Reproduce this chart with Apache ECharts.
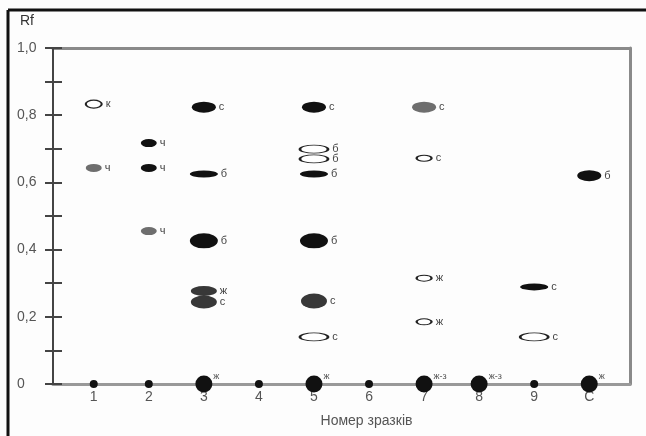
<!DOCTYPE html>
<html>
<head>
<meta charset="utf-8">
<script src="https://cdn.jsdelivr.net/npm/echarts@6/dist/echarts.min.js"></script>
<style>
  html, body { margin: 0; padding: 0; background: #fdfdfd; }
  #chart { width: 646px; height: 436px; }
</style>
</head>
<body>
<div id="chart"></div>
<script>
// доріжки (номер зразка)
const laneNames = ["1", "2", "3", "4", "5", "6", "7", "8", "9", "C"];

// плями на хроматограмі
const spotLane = [1, 1, 2, 2, 2, 3, 3, 3, 3, 3, 5, 5, 5, 5, 5, 5, 5, 7, 7, 7, 7, 9, 9, 10];
const spotRf = [0.833, 0.643, 0.717, 0.643, 0.455, 0.824, 0.625, 0.426, 0.277, 0.244,
  0.824, 0.699, 0.670, 0.625, 0.426, 0.247, 0.140, 0.824, 0.672, 0.315, 0.185, 0.289, 0.140, 0.620];
const spotTone = ["open", "gray", "black", "black", "gray", "black", "black", "black", "dark", "dark",
  "black", "open", "open", "black", "black", "dark", "open", "gray", "open", "open", "open", "black", "open", "black"];
const spotKind = ["small", "small", "small", "small", "small", "mid", "flat", "big", "wideS", "wide",
  "mid", "band", "band", "flat", "big", "wideB", "band", "mid", "tiny", "tiny", "tiny", "flat", "band", "mid"];
const spotLabel = ["к", "ч", "ч", "ч", "ч", "с", "б", "б", "ж", "с",
  "с", "б", "б", "б", "б", "с", "с", "с", "с", "ж", "ж", "с", "с", "б"];

// старт (Rf = 0)
const startLane = [1, 2, 3, 4, 5, 6, 7, 8, 9, 10];
const startKind = ["dot", "dot", "blob", "dot", "blob", "dot", "blob", "blob", "dot", "blob"];
const startLabel = ["", "", "ж", "", "ж", "", "ж-з", "ж-з", "", "ж"];

const kindSize = {
  small: [16, 8], mid: [24, 11], flat: [28, 7], big: [28, 15],
  wideS: [26, 10], wide: [26, 13], wideB: [26, 15], band: [28, 8], tiny: [15, 6],
  dot: [8, 8], blob: [17, 17]
};
const toneStyle = {
  black: { color: "#111" },
  dark: { color: "#383838" },
  gray: { color: "#6e6e6e" },
  open: { color: "#fff", borderColor: "#222", borderWidth: 1.5 }
};
const ellipse = "path://M0,1 A1,1 0 1,1 2,1 A1,1 0 1,1 0,1 Z";

const spots = spotLane.map((l, i) => ({
  value: [l, spotRf[i]],
  symbolSize: kindSize[spotKind[i]],
  itemStyle: Object.assign({ opacity: 1 }, toneStyle[spotTone[i]]),
  label: { formatter: spotLabel[i] }
}));
const starts = startLane.map((l, i) => ({
  value: [l, 0],
  symbolSize: kindSize[startKind[i]],
  label: { formatter: startLabel[i] }
}));

const chart = echarts.init(document.getElementById("chart"));
const fmt = v => {
  const k = Math.round(v * 10);
  if (k % 2) return "";
  return k === 0 ? "0" : (k / 10).toFixed(1).replace(".", ",");
};
const frameAxis = { show: true, onZero: false, lineStyle: { color: "#8a8a8a", width: 3 } };
chart.setOption({
  backgroundColor: "#fdfdfd",
  animation: false,
  title: {
    text: "Rf", left: 15, top: 9,
    textStyle: { fontFamily: "Liberation Sans", fontSize: 14, fontWeight: "normal", color: "#333" }
  },
  grid: { left: 53, right: 16, top: 48, bottom: 52 },
  xAxis: [
    {
      type: "value", min: 0.26, max: 10.74, z: 4,
      name: "Номер зразків", nameLocation: "middle", nameGap: 30,
      nameTextStyle: { fontFamily: "Liberation Sans", fontSize: 14, color: "#555", padding: [0, 0, 0, 50] },
      axisLine: { onZero: false, lineStyle: { color: "#999", width: 3 } },
      axisTick: { show: false },
      splitLine: { show: false },
      axisLabel: {
        customValues: startLane, margin: 6,
        formatter: v => laneNames[v - 1],
        fontFamily: "Liberation Sans", fontSize: 14, color: "#555"
      }
    },
    {
      type: "value", min: 0.26, max: 10.74, position: "top",
      axisLine: frameAxis, axisTick: { show: false }, axisLabel: { show: false }, splitLine: { show: false }
    }
  ],
  yAxis: [
    {
      type: "value", min: 0, max: 1, interval: 0.1, z: 5,
      axisLine: { show: true, onZero: false, lineStyle: { color: "#444", width: 2 } },
      axisTick: { show: true, length: 8, lineStyle: { color: "#444", width: 2 } },
      splitLine: { show: false },
      axisLabel: {
        formatter: fmt, align: "left", margin: 36,
        fontFamily: "Liberation Sans", fontSize: 14, color: "#555"
      }
    },
    {
      type: "value", min: 0, max: 1, interval: 0.1, position: "left", z: 5,
      axisLine: { show: false, onZero: false },
      axisTick: { show: true, inside: true, length: 9, lineStyle: { color: "#444", width: 2 } },
      splitLine: { show: false },
      axisLabel: { show: false }
    },
    {
      type: "value", min: 0, max: 1, position: "right",
      axisLine: frameAxis, axisTick: { show: false }, axisLabel: { show: false }, splitLine: { show: false }
    }
  ],
  series: [
    {
      type: "scatter", symbol: ellipse, data: spots, z: 3,
      label: {
        show: true, position: "right", distance: 3,
        fontFamily: "Liberation Sans", fontSize: 11, color: "#444"
      }
    },
    {
      type: "scatter", symbol: "circle", data: starts, z: 6,
      itemStyle: { color: "#111", opacity: 1 },
      label: {
        show: true, position: "right", distance: 1, offset: [0, -7],
        fontFamily: "Liberation Sans", fontSize: 9, color: "#555"
      }
    }
  ],
  graphic: [
    { type: "line", shape: { x1: 8, y1: 10, x2: 646, y2: 10 }, style: { stroke: "#111", lineWidth: 3 } },
    { type: "line", shape: { x1: 8, y1: 10, x2: 8, y2: 436 }, style: { stroke: "#111", lineWidth: 3 } }
  ]
});
</script>
</body>
</html>
